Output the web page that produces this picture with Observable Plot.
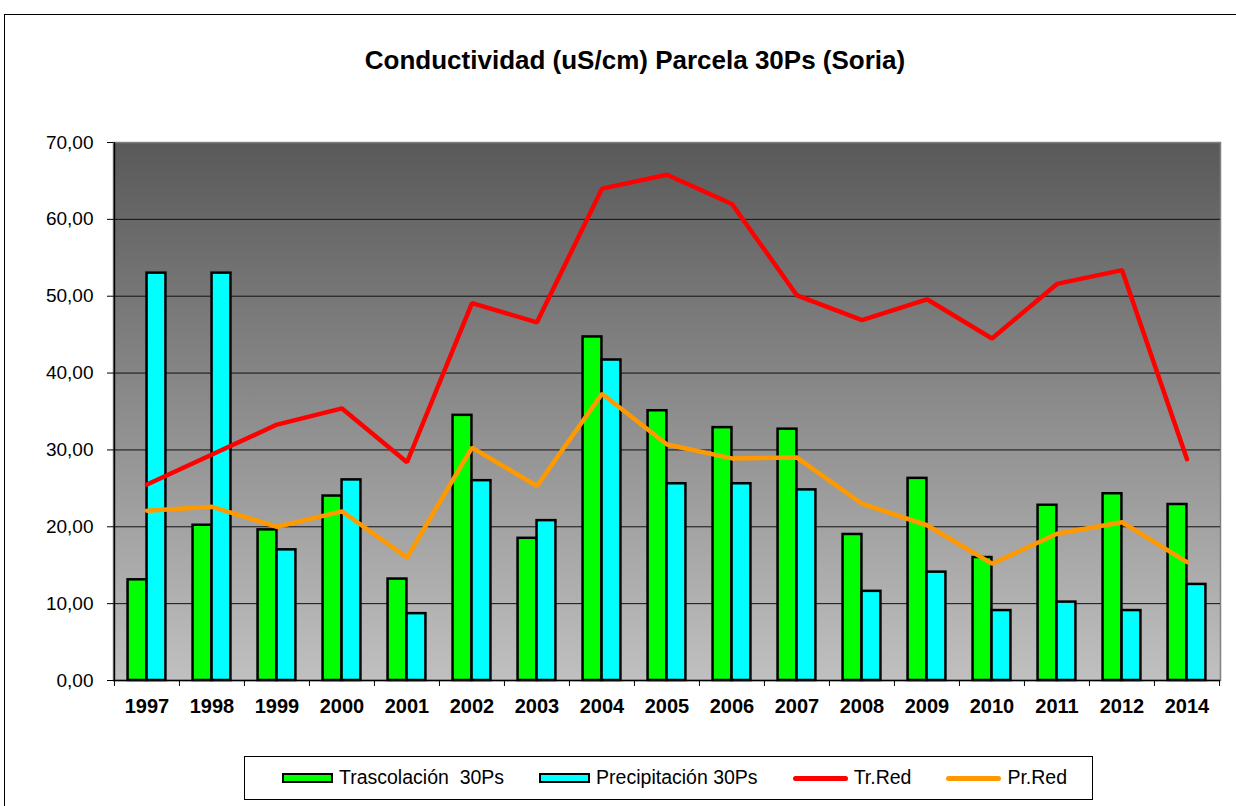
<!DOCTYPE html>
<html>
<head>
<meta charset="utf-8">
<script src="https://cdn.jsdelivr.net/npm/d3@7"></script>
<script src="https://cdn.jsdelivr.net/npm/@observablehq/plot@0.6"></script>
<style>
  html, body { margin: 0; padding: 0; background: #fff; overflow: hidden; }
  body { width: 1236px; height: 806px; position: relative; font-family: "Liberation Sans", Arial, sans-serif; }
  #frame { position: absolute; left: 4px; top: 14px; width: 1300px; height: 900px; border: 1px solid #000; box-sizing: border-box; }
  #title { position: absolute; left: 0; top: 47px; width: 1270px; text-align: center; font-size: 26px; line-height: 26px; font-weight: bold; color: #000; }
  #chart { position: absolute; left: 0; top: 90px; }
  #legend { position: absolute; left: 244px; top: 756px; width: 849px; height: 44px; border: 1px solid #000; box-sizing: border-box;
            display: flex; align-items: center; padding-left: 37px; gap: 35px; background: #fff; }
  .item { display: flex; align-items: center; gap: 6px; font-size: 19.5px; line-height: 19.5px; color: #000; white-space: pre; }
  .sw-bar { width: 51px; height: 10px; border: 2px solid #000; box-sizing: border-box; }
  .sw-line { width: 55px; height: 5px; border-radius: 2.5px; }
</style>
</head>
<body>
<div id="frame"></div>
<div id="title"></div>
<div id="chart"></div>
<div id="legend"></div>
<script>
// ---- Data ----
const titleText = "Conductividad (uS/cm) Parcela 30Ps (Soria)";
const years = ["1997","1998","1999","2000","2001","2002","2003","2004","2005","2006","2007","2008","2009","2010","2011","2012","2014"];
const trascolacion = [13.1, 20.2, 19.6, 24.0, 13.2, 34.5, 18.5, 44.7, 35.1, 32.9, 32.7, 19.0, 26.3, 16.0, 22.8, 24.3, 22.9];
const precipitacion = [53.0, 53.0, 17.0, 26.1, 8.7, 26.0, 20.8, 41.7, 25.6, 25.6, 24.8, 11.6, 14.1, 9.1, 10.2, 9.1, 12.5];
const trRed = [25.5, 29.4, 33.3, 35.4, 28.4, 49.1, 46.6, 64.0, 65.8, 62.0, 50.1, 46.9, 49.6, 44.5, 51.6, 53.4, 28.8];
const prRed = [22.1, 22.6, 20.0, 22.0, 16.0, 30.3, 25.3, 37.3, 30.7, 28.9, 29.0, 23.0, 20.2, 15.2, 19.1, 20.6, 15.4];
const yTicks = [0, 10, 20, 30, 40, 50, 60, 70];
const seriesNames = ["Trascolación  30Ps", "Precipitación 30Ps", "Tr.Red", "Pr.Red"];
const seriesColors = ["#00ff00", "#00ffff", "#ff0000", "#ff9900"];
const seriesKinds = ["bar", "bar", "line", "line"];

// ---- Build table ----
const table = years.map((y, i) => ({year: y, tras: trascolacion[i], prec: precipitacion[i], tr: trRed[i], pr: prRed[i]}));

const W = 1236, H = 640, mL = 113, mR = 16, mT = 52, mB = 50;
const bw = (W - mL - mR) / years.length;
const barW = 19;
const fmt = d => d3.format(".2f")(d).replace(".", ",");

document.getElementById("title").textContent = titleText;

const plot = Plot.plot({
  width: W, height: H,
  marginLeft: mL, marginRight: mR, marginTop: mT, marginBottom: mB,
  style: {fontFamily: "'Liberation Sans', Arial, sans-serif", background: "transparent", color: "#000", overflow: "visible"},
  x: {type: "band", domain: years, padding: 0, label: null},
  y: {domain: [0, 70], label: null},
  marks: [
    Plot.frame({fill: "url(#bgGrad)", stroke: "#808080", strokeWidth: 1.5}),
    Plot.ruleY(yTicks.filter(t => t > 0 && t < 70), {stroke: "#111", strokeWidth: 1}),
    Plot.barY(table, {x: "year", y: "tras", fill: seriesColors[0], stroke: "#000", strokeWidth: 2.5,
      insetLeft: bw / 2 - barW, insetRight: bw / 2}),
    Plot.barY(table, {x: "year", y: "prec", fill: seriesColors[1], stroke: "#000", strokeWidth: 2.5,
      insetLeft: bw / 2, insetRight: bw / 2 - barW}),
    Plot.lineY(table, {x: "year", y: "tr", stroke: seriesColors[2], strokeWidth: 4.5, strokeLinejoin: "miter", strokeLinecap: "round"}),
    Plot.lineY(table, {x: "year", y: "pr", stroke: seriesColors[3], strokeWidth: 4.5, strokeLinejoin: "miter", strokeLinecap: "round"}),
    Plot.ruleY([0], {stroke: "#000", strokeWidth: 1.5}),
    Plot.ruleX([years[0]], {dx: -bw / 2, stroke: "#000", strokeWidth: 1.5}),
    Plot.axisY({ticks: yTicks, tickSize: 6, tickPadding: 14, tickFormat: fmt, fontSize: 19, label: null}),
    Plot.axisX({tickSize: 6, tickFormat: () => "", dx: -bw / 2, label: null}),
    Plot.axisX({ticks: [years[years.length - 1]], tickSize: 6, tickFormat: () => "", dx: bw / 2, label: null}),
    Plot.axisX({tickSize: 0, tickPadding: 18, fontSize: 20, fontWeight: "bold", label: null})
  ]
});

const svg = d3.select(plot);
const defs = svg.insert("defs", ":first-child");
const grad = defs.append("linearGradient").attr("id", "bgGrad").attr("x1", 0).attr("y1", 0).attr("x2", 0).attr("y2", 1);
grad.append("stop").attr("offset", 0).attr("stop-color", "#595959");
grad.append("stop").attr("offset", 1).attr("stop-color", "#c0c0c0");
document.getElementById("chart").appendChild(plot);

// ---- Legend ----
const legend = d3.select("#legend");
seriesNames.forEach((name, i) => {
  const it = legend.append("div").attr("class", "item");
  if (seriesKinds[i] === "bar") it.append("div").attr("class", "sw-bar").style("background", seriesColors[i]);
  else it.append("div").attr("class", "sw-line").style("background", seriesColors[i]);
  it.append("span").text(name);
});
</script>
</body>
</html>
